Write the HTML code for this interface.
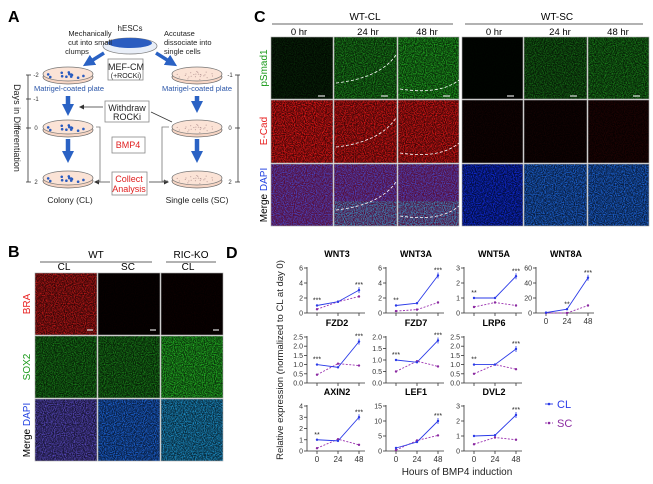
<!DOCTYPE html><html><head><meta charset="utf-8"><style>
html,body{margin:0;padding:0;background:#fff}
svg{display:block;font-family:"Liberation Sans",Arial,sans-serif}
</style></head><body>
<svg id="s" width="653" height="484" viewBox="0 0 653 484" xmlns="http://www.w3.org/2000/svg">
<defs>
<filter id="n" x="0" y="0" width="100%" height="100%">
<feTurbulence type="fractalNoise" baseFrequency="0.9" numOctaves="1" seed="3" result="t"/>
<feColorMatrix in="t" type="matrix" values="0 0 0 0 0  0 0 0 0 0  0 0 0 0 0  2.5 0 0 0 -0.9" result="m"/>
<feComposite in="SourceGraphic" in2="m" operator="in"/>
</filter>
<marker id="ah" markerUnits="userSpaceOnUse" markerWidth="12" markerHeight="12" refX="6" refY="6" orient="auto"><path d="M0,0 L12,6 L0,12 z" fill="#2a62c4"/></marker>
<marker id="ak" markerUnits="userSpaceOnUse" markerWidth="5" markerHeight="5" refX="4" refY="2.5" orient="auto"><path d="M0,0 L5,2.5 L0,5 z" fill="#333"/></marker>
</defs>
<g id="root"></g>
</svg>
<script>
var R=document.getElementById('root'),h='';
function t(x,y,s,sz,c,a,w,rot){h+='<text x="'+x+'" y="'+y+'" font-size="'+sz+'" fill="'+(c||'#000')+'"'+(a?' text-anchor="'+a+'"':'')+(w?' font-weight="bold"':'')+(rot?' transform="rotate(-90 '+x+' '+y+')"':'')+'>'+s+'</text>';}
function r(x,y,w,hh,f,extra){h+='<rect x="'+x+'" y="'+y+'" width="'+w+'" height="'+hh+'" fill="'+f+'" '+(extra||'')+'/>';}
function l(x1,y1,x2,y2,c,sw,extra){h+='<line x1="'+x1+'" y1="'+y1+'" x2="'+x2+'" y2="'+y2+'" stroke="'+c+'" stroke-width="'+(sw||1)+'" '+(extra||'')+'/>';}
t(8,22,'A',16,'#000',0,1);t(254,22,'C',16,'#000',0,1);t(8,257,'B',16,'#000',0,1);t(226,258,'D',16,'#000',0,1);
function dish(cx,cy,dots,big){h+='<ellipse cx="'+cx+'" cy="'+(cy+3)+'" rx="25" ry="7" fill="#f6d5c4" stroke="#666" stroke-width="0.7"/><ellipse cx="'+cx+'" cy="'+cy+'" rx="25" ry="7" fill="#fbe3d6" stroke="#777" stroke-width="0.7"/>';
 for(var i=0;i<dots;i++){var a=i*2.39,rr=(i%5+1)*4;h+='<circle cx="'+(cx+Math.cos(a)*rr)+'" cy="'+(cy+1+Math.sin(a)*rr*0.22)+'" r="'+(big?1.3:0.5)+'" fill="'+(big?'#2a5cc0':'#a88')+'"/>';}}
h+='<ellipse cx="130" cy="46" rx="27" ry="8" fill="#e8eef8" stroke="#777" stroke-width="0.7"/><ellipse cx="130" cy="43" rx="22" ry="5" fill="#2a5cc0"/>';
t(130,31,'hESCs',8,'#222','middle');
t(90,36,'Mechanically',7.5,'#222','middle');t(90,45,'cut into small',7.5,'#222','middle');t(77,54,'clumps',7.5,'#222','middle');
t(164,36,'Accutase',7.5,'#222');t(164,45,'dissociate into',7.5,'#222');t(164,54,'single cells',7.5,'#222');
[74,127,178].forEach(function(y){dish(68,y,12,1);dish(197,y,24,0);});
t(69,91,'Matrigel-coated plate',7.5,'#2a55a8','middle');t(197,91,'Matrigel-coated plate',7.5,'#2a55a8','middle');
l(104,53,88,63,'#2a62c4',3.5,'marker-end="url(#ah)"');l(156,53,172,63,'#2a62c4',3.5,'marker-end="url(#ah)"');
l(68,96,68,110,'#2a62c4',4.5,'marker-end="url(#ah)"');l(68,139,68,157,'#2a62c4',4.5,'marker-end="url(#ah)"');
l(197,96,197,107,'#2a62c4',4.5,'marker-end="url(#ah)"');l(197,139,197,157,'#2a62c4',4.5,'marker-end="url(#ah)"');
r(108,59,35,21,'#fff','stroke="#888" stroke-width="0.8"');t(126,70,'MEF-CM',9,'#222','middle');t(126,78,'(+ROCKi)',7,'#222','middle');
r(105,101,44,21,'#fff','stroke="#888" stroke-width="0.8"');t(127,111,'Withdraw',9,'#222','middle');t(127,120,'ROCKi',9,'#222','middle');
l(103,107,80,107,'#333',0.7,'marker-end="url(#ak)"');l(151,112,172,122,'#333',0.7);
r(112,137,33,16,'#fff','stroke="#888" stroke-width="0.8"');t(128,148,'BMP4',9,'#e02020','middle');
r(112,172,35,23,'#fff','stroke="#888" stroke-width="0.8"');t(129,182,'Collect',9,'#e02020','middle');t(129,192,'Analysis',9,'#e02020','middle');
l(110,182,95,182,'#333',0.7,'marker-end="url(#ak)"');l(149,182,168,182,'#333',0.7,'marker-end="url(#ak)"');
h+='<polyline points="96,127 100,127 100,181 97,181" fill="none" stroke="#777" stroke-width="0.8"/><polyline points="169,127 162,127 162,181 168,181" fill="none" stroke="#777" stroke-width="0.8"/>';
t(70,203,'Colony (CL)',8.5,'#222','middle');t(197,203,'Single cells (SC)',8.5,'#222','middle');
l(28,75,28,182,'#333',0.8);[[75,'-2'],[99,'-1'],[128,'0'],[182,'2']].forEach(function(p){l(26,p[0],31,p[0],'#333',0.8);t(36,p[0]+2,p[1],6,'#333','middle');});
l(238,75,238,182,'#333',0.8);[[75,'-1'],[128,'0'],[182,'2']].forEach(function(p){l(235,p[0],240,p[0],'#333',0.8);t(230,p[0]+2,p[1],6,'#333','middle');});
h+='<text x="14" y="128" font-size="9" fill="#222" text-anchor="middle" transform="rotate(90 14 128)">Days in Differentiation</text>';
function img(x,y,w,hh,col,op){r(x,y,w,hh,'#000');r(x,y,w,hh,col,'opacity="'+(op*0.3)+'"');r(x,y,w,hh,col,'filter="url(#n)" opacity="'+op+'"');}
var cx=[271,334,398,462,524,588],cw=[62,63,61,61,63,61],ry=[37,100,164],rh=[62,63,62];
var cg=[[0.15,0.6,0.75,0.02,0.45,0.55],[0.9,0.85,0.85,0.06,0.06,0.1]];
for(var i=0;i<6;i++){img(cx[i],ry[0],cw[i],rh[0],'#2ad02a',cg[0][i]);img(cx[i],ry[1],cw[i],rh[1],'#ff1a1a',cg[1][i]);
 if(i<3){r(cx[i],ry[2],cw[i],rh[2],'#000');r(cx[i],ry[2],cw[i],rh[2],'#c02080','opacity="0.45"');r(cx[i],ry[2],cw[i],rh[2],'#4060ff','filter="url(#n)" opacity="0.75"');if(i>0)r(cx[i],ry[2]+rh[2]*0.6,cw[i],rh[2]*0.4,'#30c0a0','filter="url(#n)" opacity="0.6"');}
 else{img(cx[i],ry[2],cw[i],rh[2],i==3?'#1030f0':'#2070f0',0.9);}}
for(var i=0;i<6;i++){for(var j=0;j<3;j++)r(cx[i],ry[j],cw[i],rh[j],'none','stroke="#aaa" stroke-width="0.6"');}
h+='<path d="M336,83 Q380,78 396,55 M336,147 Q380,142 396,118 M336,210 Q380,205 396,182 M400,89 Q440,95 459,80 M400,153 Q440,159 459,143 M400,216 Q440,222 459,206" fill="none" stroke="#fff" stroke-width="0.8" stroke-dasharray="3,2"/>';
[[322,96],[385,96],[447,96],[511,96],[574,96],[637,96]].forEach(function(p){l(p[0]-4,p[1],p[0]+3,p[1],'#ddd',1.2);});
t(365,20,'WT-CL',10,'#000','middle');l(272,24,453,24,'#333',0.8);t(557,20,'WT-SC',10,'#000','middle');l(465,24,643,24,'#333',0.8);
['0 hr','24 hr','48 hr'].forEach(function(s,i){t([299,368,427][i],35,s,9.5,'#000','middle');t([494,560,618][i],35,s,9.5,'#000','middle');});
t(267,68,'pSmad1',10,'#1a9a1a','middle',0,1);t(267,131,'E-Cad',10,'#e82020','middle',0,1);
h+='<text x="267" y="195" font-size="10" text-anchor="middle" transform="rotate(-90 267 195)"><tspan fill="#000">Merge </tspan><tspan fill="#2040e0">DAPI</tspan></text>';
var bx=[35,98,161],bw=[62,62,62],by=[273,336,399],bh=[62,62,62];
var bg=[[0.7,0.03,0.04],[0.55,0.55,0.85]];
for(var i=0;i<3;i++){img(bx[i],by[0],bw[i],bh[0],'#ff2020',bg[0][i]);img(bx[i],by[1],bw[i],bh[1],'#2ad02a',bg[1][i]);
 img(bx[i],by[2],bw[i],bh[2],['#6050d0','#2070f0','#20a0e0'][i],0.9);
 for(var j=0;j<3;j++)r(bx[i],by[j],bw[i],bh[j],'none','stroke="#aaa" stroke-width="0.6"');
 l(bx[i]+52,by[0]+57,bx[i]+58,by[0]+57,'#ddd',1.2);}
t(96,258,'WT',10,'#000','middle');l(40,262,152,262,'#333',0.8);t(191,258,'RIC-KO',10,'#000','middle');l(166,262,216,262,'#333',0.8);
t(64,270,'CL',10,'#000','middle');t(128,270,'SC',10,'#000','middle');t(188,270,'CL',10,'#000','middle');
t(30,304,'BRA',10,'#e82020','middle',0,1);t(30,367,'SOX2',10,'#1a9a1a','middle',0,1);
h+='<text x="30" y="430" font-size="10" text-anchor="middle" transform="rotate(-90 30 430)"><tspan fill="#000">Merge </tspan><tspan fill="#2040e0">DAPI</tspan></text>';
var P=[
['WNT3',0,0,6,[0,2,4,6],[1,1.5,3.05],[0.5,1.5,2.2],['***','','***']],
['WNT3A',1,0,6,[0,2,4,6],[1,1.3,5],[0.25,0.45,1.4],['**','','***']],
['WNT5A',2,0,3,[0,1,2,3],[1,1,2.45],[0.4,0.7,0.5],['**','','***']],
['WNT8A',3,0,60,[0,20,40,60],[0.5,5,47],[0,0,10],['','**','***']],
['FZD2',0,1,2.5,['0.0','0.5','1.0','1.5','2.0','2.5'],[1,0.85,2.25],[0.45,1.05,0.95],['***','','***']],
['FZD7',1,1,2,['0.0','0.5','1.0','1.5','2.0'],[1,0.9,1.85],[0.5,0.95,0.72],['***','','***']],
['LRP6',2,1,2.5,['0.0','0.5','1.0','1.5','2.0','2.5'],[1,1,1.85],[0.5,1,0.75],['**','','***']],
['AXIN2',0,2,4,[0,1,2,3,4],[1,0.9,3],[0.25,1.05,0.55],['**','','***']],
['LEF1',1,2,15,[0,5,10,15],[1,3,10],[0.3,3.5,5.2],['','','***']],
['DVL2',2,2,3,[0,1,2,3],[1,1.05,2.4],[0.45,0.9,0.75],['','','***']]];
var AX=[307,386,464,536],TOP=[268,337,406],BOT=[313,383,451];
P.forEach(function(p){var x0=AX[p[1]],yt=TOP[p[2]],yb=BOT[p[2]],m=p[3];
 function Y(v){return yb-(v/m)*(yb-yt);} var X=[x0+10,x0+31,x0+52];
 t(x0+30,yt-11,p[0],9,'#000','middle',1);
 l(x0,yt-1,x0,yb,'#333',0.8);l(x0,yb,x0+58,yb,'#333',0.8);
 p[4].forEach(function(v){var y=Y(parseFloat(v));l(x0-3,y,x0,y,'#333',0.8);t(x0-4,y+2.5,v,7,'#333','end');});
 X.forEach(function(x){l(x,yb,x,yb+3,'#333',0.8);});
 if(p[2]==2||p[0]=='WNT8A'){['0','24','48'].forEach(function(s,i){t(X[i],yb+11,s,8,'#333','middle');});}
 h+='<polyline points="'+X.map(function(x,i){return x+','+Y(p[6][i]);}).join(' ')+'" fill="none" stroke="#9a30b0" stroke-width="0.9" stroke-dasharray="2,1.5"/>';
 h+='<polyline points="'+X.map(function(x,i){return x+','+Y(p[5][i]);}).join(' ')+'" fill="none" stroke="#2a3ae8" stroke-width="0.9"/>';
 X.forEach(function(x,i){h+='<circle cx="'+x+'" cy="'+Y(p[6][i])+'" r="1.2" fill="#8a2aa0"/><circle cx="'+x+'" cy="'+Y(p[5][i])+'" r="1.2" fill="#2a3ae8"/>';
  if(i==2){l(x,Y(p[5][i])-3,x,Y(p[5][i])+3,'#2a3ae8',0.8);}
  if(p[7][i])t(x,Math.min(Y(p[5][i]),Y(p[6][i]))-3,p[7][i],7,'#222','middle');});
});
t(283,360,'Relative expression (normalized to CL at day 0)',9.5,'#222','middle',0,1);
t(457,475,'Hours of BMP4 induction',10,'#222','middle');
l(545,404,553,404,'#2a3ae8',0.9);h+='<circle cx="549" cy="404" r="1.3" fill="#2a3ae8"/>';t(557,408,'CL',11,'#2a3ae8');
l(545,423,553,423,'#9a30b0',0.9,'stroke-dasharray="2,1.5"');h+='<circle cx="549" cy="423" r="1.3" fill="#8a2aa0"/>';t(557,427,'SC',11,'#8a2aa0');
R.innerHTML=h;
</script>
</body></html>
